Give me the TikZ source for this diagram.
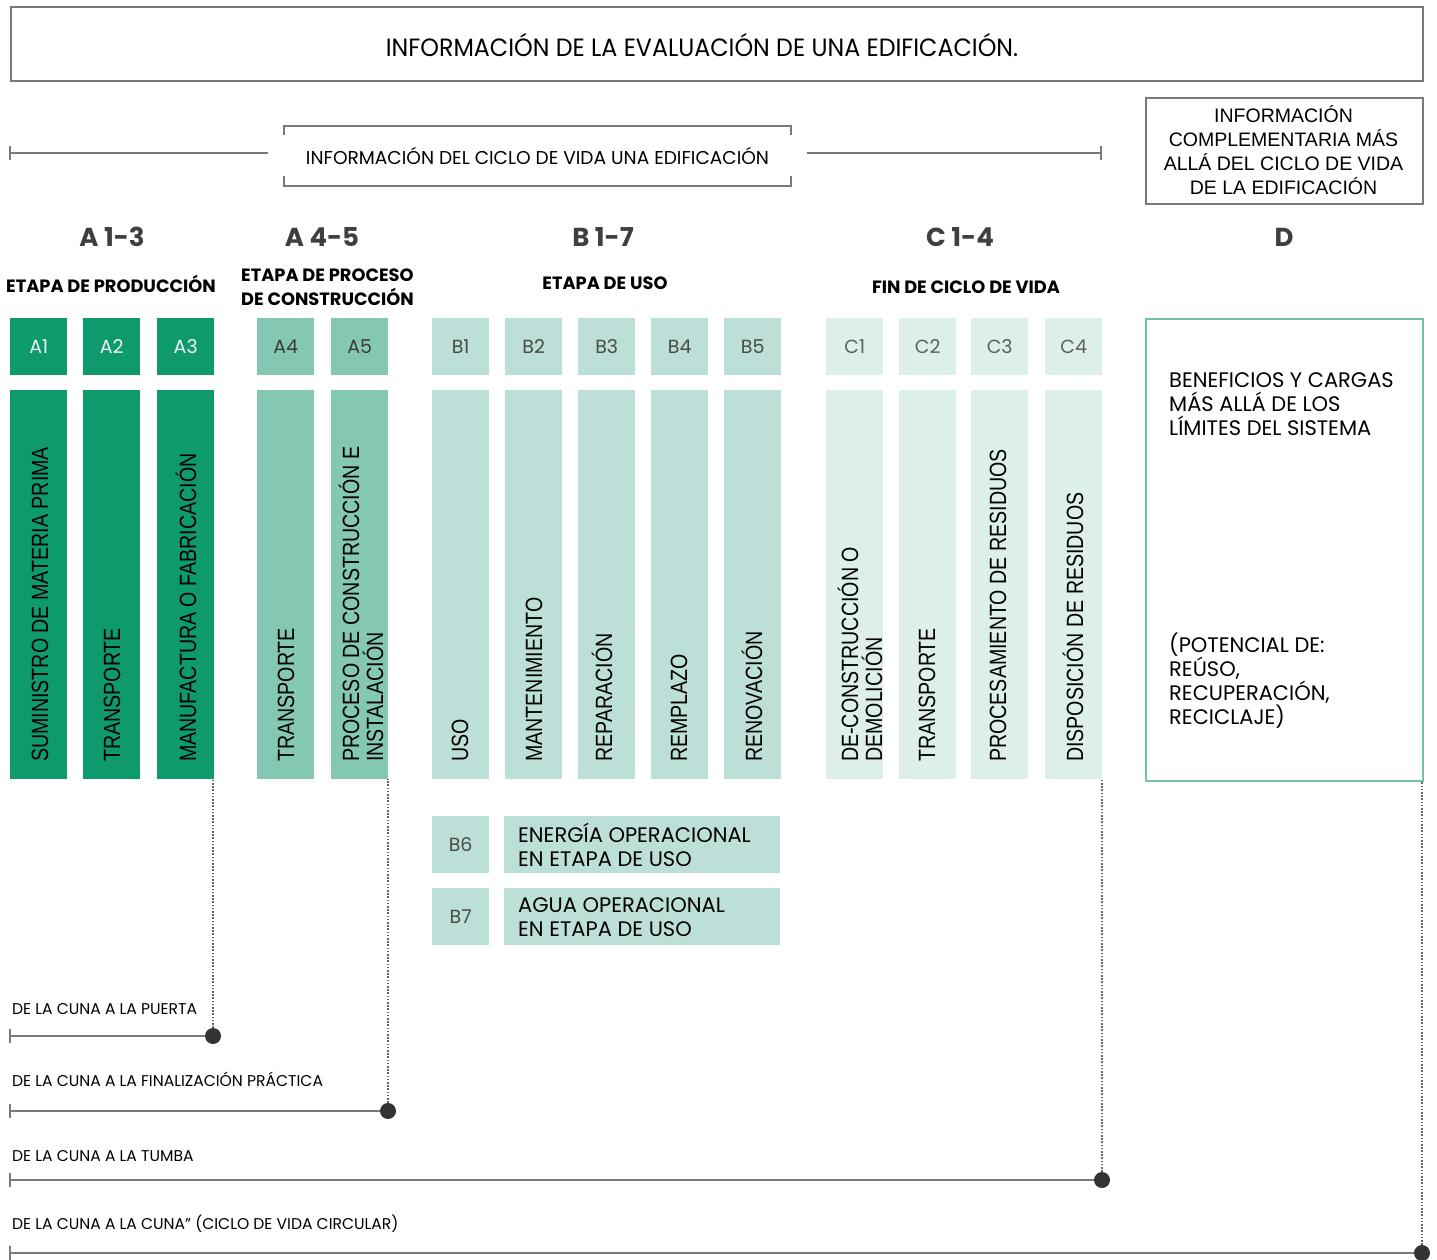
\documentclass[tikz,border=0pt]{standalone}
\usepackage{fontspec}
\usetikzlibrary{calc}
\setmainfont{Poppins}
\newfontfamily\pop{Poppins}
\newfontfamily\popc[FakeStretch=0.95]{Poppins}
\newfontfamily\arn[FakeStretch=0.835]{Liberation Sans}
\newfontfamily\ar{Liberation Sans}
\definecolor{gA}{HTML}{0F9A6D}
\definecolor{gB}{HTML}{84C8B3}
\definecolor{gC}{HTML}{BCE0D7}
\definecolor{gD}{HTML}{DCEFE9}
\definecolor{gBorder}{HTML}{72C3A6}
\definecolor{lineg}{HTML}{7A7A7A}
\definecolor{dotg}{HTML}{666666}
\definecolor{dotc}{HTML}{333333}
\definecolor{tW}{HTML}{EAF6F1}
\definecolor{tB}{HTML}{3A3A3A}
\definecolor{tC}{HTML}{4A4A4A}
\definecolor{tD}{HTML}{5E5E5E}
\definecolor{hdr}{HTML}{3F3F3F}
\begin{document}
\begin{tikzpicture}[x=1pt,y=-1pt,
  smallbox/.style={anchor=north west,minimum width=57pt,minimum height=57pt,inner sep=0pt,font=\pop\fontsize{19}{22}\selectfont},
  tallbox/.style={anchor=north west,minimum width=57pt,minimum height=389pt,inner sep=0pt},
  vtext/.style={rotate=90,anchor=west,inner sep=0pt,align=left,font=\arn\fontsize{23.5}{24}\selectfont},
  stagehdr/.style={font=\pop\bfseries\fontsize{26}{28}\selectfont,text=hdr,inner sep=0pt},
  stagename/.style={font=\pop\bfseries\fontsize{17.8}{24}\selectfont,inner sep=0pt},
  bodytext/.style={font=\pop\fontsize{21}{24}\selectfont,inner sep=0pt,align=left},
  spanlab/.style={font=\pop\fontsize{15.6}{17}\selectfont,inner sep=0pt,anchor=base west},
  spanline/.style={draw=lineg,line width=2.6pt},
  dotline/.style={draw=dotg,line width=2pt,dash pattern=on 1.6pt off 1.6pt},
  enddot/.style={circle,fill=dotc,minimum size=16pt,inner sep=0pt},
  grayframe/.style={draw=lineg,line width=2pt}]
\useasboundingbox (0,0) rectangle (1437,1260);

% title
\node[grayframe,anchor=north west,minimum width=1412pt,minimum height=74pt,inner sep=0pt] (title) at (10,6) {};
\node[font=\popc\fontsize{25}{28}\selectfont,inner sep=0pt] (titletext) at (702,45) {INFORMACIÓN DE LA EVALUACIÓN DE UNA EDIFICACIÓN.};

% life cycle bracket
\node[font=\pop\fontsize{18.6}{20}\selectfont,minimum width=507pt,minimum height=60pt,inner sep=0pt] (lc) at (537.5,156) {INFORMACIÓN DEL CICLO DE VIDA UNA EDIFICACIÓN};
\draw[grayframe] ($(lc.north west)+(0,9)$) -- (lc.north west) -- (lc.north east) -- ($(lc.north east)+(0,9)$);
\draw[grayframe] ($(lc.south west)+(0,-10)$) -- (lc.south west) -- (lc.south east) -- ($(lc.south east)+(0,-10)$);
\coordinate (lcL) at (10,153);
\coordinate (lcR) at (1101,153);
\draw[grayframe] (lcL) -- ($(lc.west |- lcL)+(-16,0)$);
\draw[grayframe] ($(lc.east |- lcR)+(16,0)$) -- (lcR);
\draw[grayframe] ($(lcL)+(0,-7)$) -- ($(lcL)+(0,7)$);
\draw[grayframe] ($(lcR)+(0,-7)$) -- ($(lcR)+(0,7)$);

% complementary info box
\node[grayframe,anchor=north west,minimum width=277pt,minimum height=106pt,inner sep=0pt] (dinfo) at (1145,97) {};
\node[font=\ar\fontsize{19.5}{24}\selectfont,align=center,inner sep=0pt] (dinfotext) at (1283.5,150) {INFORMACIÓN\\COMPLEMENTARIA MÁS\\ALLÁ DEL CICLO DE VIDA\\DE LA EDIFICACIÓN};

% stage headers
\node[stagehdr] (hA13) at (112,237) {A 1-3};
\node[stagehdr] (hA45) at (322,237) {A 4-5};
\node[stagehdr] (hB17) at (603,237) {B 1-7};
\node[stagehdr] (hC14) at (960,237) {C 1-4};
\node[stagehdr] (hD) at (1284,237) {D};

\node[stagename] (nA13) at (111,284) {ETAPA DE PRODUCCIÓN};
\node[stagename,anchor=west,align=left] (nA45) at (241,287) {ETAPA DE PROCESO\\DE CONSTRUCCIÓN};
\node[stagename] (nB17) at (605,283) {ETAPA DE USO};
\node[stagename] (nC14) at (966,287) {FIN DE CICLO DE VIDA};

% module boxes
\foreach \n/\xx/\c/\tc in {A1/10/gA/tW,A2/83/gA/tW,A3/157/gA/tW,A4/257/gB/tB,A5/331/gB/tB,
  B1/432/gC/tC,B2/505/gC/tC,B3/578/gC/tC,B4/651/gC/tC,B5/724/gC/tC,
  C1/826/gD/tD,C2/899/gD/tD,C3/971/gD/tD,C4/1045/gD/tD}{
  \node[smallbox,fill=\c,text=\tc] (s\n) at (\xx,318) {\n};
  \node[tallbox,fill=\c] (t\n) at (\xx,390) {};
}

% vertical texts
\node[vtext] (vA1) at (40,762) {SUMINISTRO DE MATERIA PRIMA};
\node[vtext] (vA2) at (112,762) {TRANSPORTE};
\node[vtext] (vA3) at (186,762) {MANUFACTURA O FABRICACIÓN};
\node[vtext] (vA4) at (286,762) {TRANSPORTE};
\node[vtext] (vA5) at (361,762) {PROCESO DE CONSTRUCCIÓN E\\INSTALACIÓN};
\node[vtext] (vB1) at (460,762) {USO};
\node[vtext] (vB2) at (534,762) {MANTENIMIENTO};
\node[vtext] (vB3) at (602,762) {REPARACIÓN};
\node[vtext] (vB4) at (679,762) {REMPLAZO};
\node[vtext] (vB5) at (752,762) {RENOVACIÓN};
\node[vtext] (vC1) at (860,762) {DE-CONSTRUCCIÓN O\\DEMOLICIÓN};
\node[vtext] (vC2) at (927,762) {TRANSPORTE};
\node[vtext] (vC3) at (998,762) {PROCESAMIENTO DE RESIDUOS};
\node[vtext] (vC4) at (1073,762) {DISPOSICIÓN DE RESIDUOS};

% B6 / B7
\node[smallbox,fill=gC,text=tC] (sB6) at (432,816) {B6};
\node[anchor=north west,minimum width=276pt,minimum height=57pt,inner sep=0pt,fill=gC] (wB6) at (504,816) {};
\node[bodytext,anchor=west] (wB6t) at (518,845) {ENERGÍA OPERACIONAL\\EN ETAPA DE USO};
\node[smallbox,fill=gC,text=tC] (sB7) at (432,888) {B7};
\node[anchor=north west,minimum width=276pt,minimum height=57pt,inner sep=0pt,fill=gC] (wB7) at (504,888) {};
\node[bodytext,anchor=west] (wB7t) at (518,917) {AGUA OPERACIONAL\\EN ETAPA DE USO};

% D box
\node[draw=gBorder,line width=2pt,anchor=north west,minimum width=277pt,minimum height=462pt,inner sep=0pt] (tD) at (1145,318) {};
\node[bodytext,anchor=north west] (dT1) at (1169,372) {BENEFICIOS Y CARGAS\\MÁS ALLÁ DE LOS\\LÍMITES DEL SISTEMA};
\node[bodytext,anchor=north west] (dT2) at (1169,633) {(POTENCIAL DE:\\REÚSO,\\RECUPERACIÓN,\\RECICLAJE)};

% scope lines
\coordinate (l1) at (10,1036);
\coordinate (l2) at (10,1111);
\coordinate (l3) at (10,1180);
\coordinate (l4) at (10,1253);
\node[enddot] (d1) at (213,1036) {};
\node[enddot] (d2) at (388,1111) {};
\node[enddot] (d3) at (1102,1180) {};
\node[enddot] (d4) at (1422,1253) {};
\foreach \i in {1,2,3,4}{
  \draw[spanline] (l\i) -- (d\i.west);
  \draw[draw=lineg,line width=2pt] ($(l\i)+(0,-7)$) -- ($(l\i)+(0,7)$);
}
\draw[dotline] (d1.north) -- (d1.north |- tA3.south);
\draw[dotline] (d2.north) -- (d2.north |- tA5.south);
\draw[dotline] (d3.north) -- (d3.north |- tC4.south);
\draw[dotline] (d4.north) -- (d4.north |- tD.south);

\node[spanlab] (lab1) at (12,1014) {DE LA CUNA A LA PUERTA};
\node[spanlab] (lab2) at (12,1086) {DE LA CUNA A LA FINALIZACIÓN PRÁCTICA};
\node[spanlab] (lab3) at (12,1161) {DE LA CUNA A LA TUMBA};
\node[spanlab] (lab4) at (12,1229) {DE LA CUNA A LA CUNA” (CICLO DE VIDA CIRCULAR)};
\end{tikzpicture}
\end{document}
